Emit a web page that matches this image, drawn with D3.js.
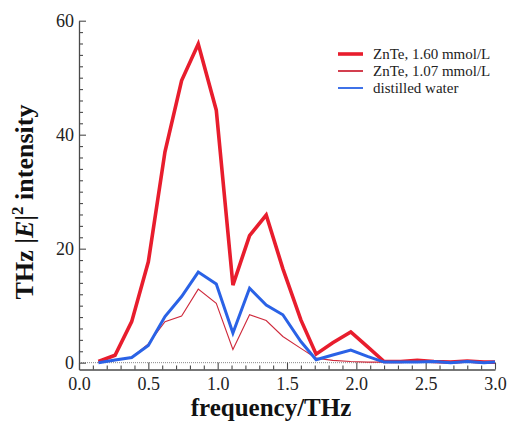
<!DOCTYPE html>
<html>
<head>
<meta charset="utf-8">
<script src="https://cdn.jsdelivr.net/npm/d3@7"></script>
<style>
  html, body { margin: 0; padding: 0; background: #fff; }
  svg { display: block; }
</style>
</head>
<body>
<svg id="chart" width="509" height="422"></svg>
<script>
// ---- data ----
const freq = [0.14, 0.26, 0.38, 0.50, 0.62, 0.74, 0.86, 0.99, 1.11, 1.23, 1.35, 1.47, 1.60, 1.71, 1.83, 1.96, 2.08, 2.20, 2.32, 2.44, 2.56, 2.68, 2.80, 2.92, 3.00];
const znte160 = [0.2, 1.3, 7.2, 17.7, 37.0, 49.5, 55.9, 44.3, 13.6, 22.3, 25.9, 16.5, 7.5, 1.5, 3.5, 5.4, 2.8, 0.2, 0.2, 0.4, 0.2, 0.1, 0.3, 0.1, 0.1];
const znte107 = [0.05, 0.4, 0.9, 3.3, 7.2, 8.2, 12.9, 10.4, 2.3, 8.4, 7.4, 4.6, 2.5, 0.8, 0.4, 0.2, 0.1, 0.1, 0.1, 0.1, 0.1, 0.1, 0.1, 0.1, 0.1];
const water = [0.0, 0.45, 0.9, 3.0, 8.1, 11.6, 15.9, 13.8, 5.2, 13.05, 10.1, 8.4, 3.7, 0.5, 1.35, 2.2, 1.1, 0.1, 0.1, 0.1, 0.2, 0.0, 0.2, 0.0, 0.1];
const seriesNames = ["ZnTe, 1.60 mmol/L", "ZnTe, 1.07 mmol/L", "distilled water"];
const xTicks = [0, 0.5, 1.0, 1.5, 2.0, 2.5, 3.0];
const yTicks = [0, 20, 40, 60];

// ---- layout ----
const svg = d3.select("#chart");
const serif = "'Liberation Serif', 'Times New Roman', serif";
const x = d3.scaleLinear().domain([0, 3]).range([79, 495]);
const y = d3.scaleLinear().domain([-1.2, 60]).range([369.5, 20.7]);

const styles = [
  { color: "#e81d2d", width: 3.6, legendWidth: 3.6 },
  { color: "#cf2a3c", width: 1.1, legendWidth: 1.8 },
  { color: "#2a62e6", width: 3.0, legendWidth: 1.8 }
];
const allSeries = [znte160, znte107, water];

// zero dotted line
svg.append("line")
  .attr("x1", x(0)).attr("x2", x(3))
  .attr("y1", y(0)).attr("y2", y(0))
  .attr("stroke", "#888").attr("stroke-width", 1)
  .attr("stroke-dasharray", "1,1");

// axes
const axisColor = "#4a4a4a";
const yAxisG = svg.append("g").attr("transform", "translate(79,0)");
yAxisG.call(d3.axisLeft(y).tickValues(yTicks).tickSizeInner(-7).tickSizeOuter(0).tickPadding(5).tickFormat(d3.format("d")));
const yMinor = svg.append("g").attr("transform", "translate(79,0)");
yMinor.call(d3.axisLeft(y).tickValues(d3.range(0, 61, 2).filter(v => v % 20 !== 0)).tickSizeInner(-4).tickSizeOuter(0).tickFormat(""));
yMinor.select(".domain").remove();

const xAxisG = svg.append("g").attr("transform", "translate(0,369.5)");
xAxisG.call(d3.axisBottom(x).tickValues(xTicks).tickSizeInner(-7).tickSizeOuter(0).tickPadding(8).tickFormat(d3.format(".1f")));
const xMinor = svg.append("g").attr("transform", "translate(0,369.5)");
xMinor.call(d3.axisBottom(x).tickValues(d3.range(1, 30).filter(i => i % 5 !== 0).map(i => i / 10)).tickSizeInner(-4).tickSizeOuter(0).tickFormat(""));
xMinor.select(".domain").remove();

svg.selectAll(".domain").attr("stroke", axisColor).attr("stroke-width", 1.3);
svg.selectAll(".tick line").attr("stroke", axisColor).attr("stroke-width", 1.1);
svg.selectAll("g").attr("font-family", serif);
svg.selectAll(".tick text").attr("font-family", serif).attr("font-size", 18).attr("fill", "#222");

// lines
const line = d3.line().x((d, i) => x(freq[i])).y(d => y(d));
allSeries.forEach((s, k) => {
  svg.append("path")
    .datum(s)
    .attr("d", line)
    .attr("fill", "none")
    .attr("stroke", styles[k].color)
    .attr("stroke-width", styles[k].width)
    .attr("stroke-linejoin", "miter");
});

// legend
const legendY = [54, 71, 88];
seriesNames.forEach((name, k) => {
  svg.append("line")
    .attr("x1", 338).attr("x2", 363)
    .attr("y1", legendY[k]).attr("y2", legendY[k])
    .attr("stroke", styles[k].color)
    .attr("stroke-width", styles[k].legendWidth);
  svg.append("text")
    .attr("x", 373).attr("y", legendY[k] + 5)
    .attr("font-family", serif).attr("font-size", 15).attr("fill", "#222")
    .text(name);
});

// axis titles
svg.append("text")
  .attr("x", 271).attr("y", 416)
  .attr("text-anchor", "middle")
  .attr("font-family", serif).attr("font-size", 25).attr("font-weight", "bold").attr("fill", "#111")
  .text("frequency/THz");

const yt = svg.append("text")
  .attr("transform", "translate(33,202) rotate(-90)")
  .attr("text-anchor", "middle")
  .attr("font-family", serif).attr("font-size", 26).attr("font-weight", "bold").attr("fill", "#111");
yt.append("tspan").text("THz |");
yt.append("tspan").attr("font-style", "italic").text("E");
yt.append("tspan").text("|");
yt.append("tspan").attr("font-size", 17).attr("dy", -10).text("2");
yt.append("tspan").attr("dy", 10).text(" intensity");
</script>
</body>
</html>
